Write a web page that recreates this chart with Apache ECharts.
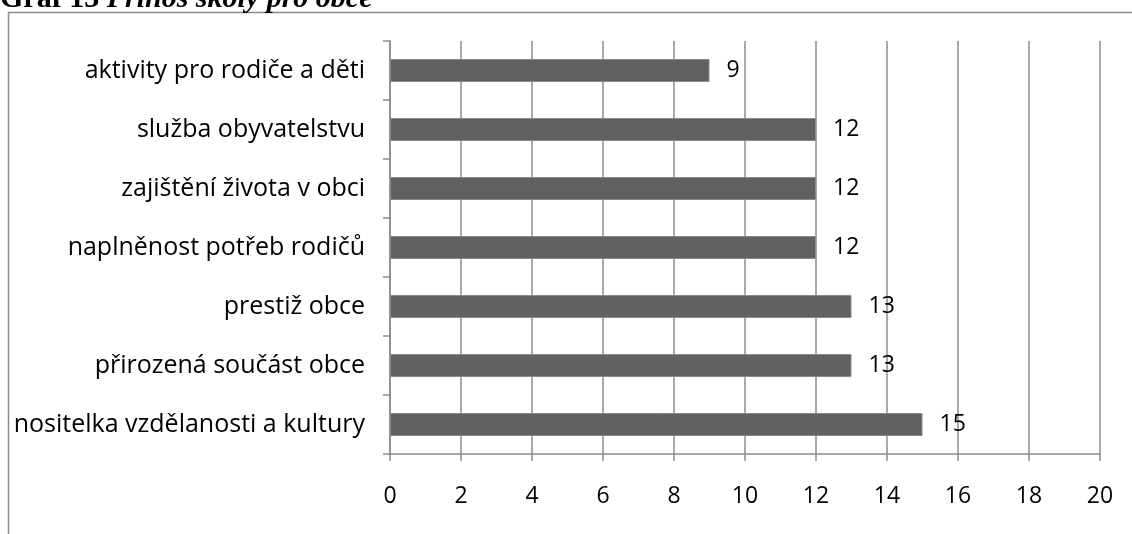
<!DOCTYPE html>
<html><head><meta charset="utf-8">
<script src="https://cdn.jsdelivr.net/npm/echarts@6/dist/echarts.min.js"></script>
<style>html,body{margin:0;padding:0;background:#fff}#c{width:1132px;height:534px}</style>
</head><body><div id="c"></div>
<script>
const categories = ["nositelka vzdělanosti a kultury","přirozená součást obce","prestiž obce","naplněnost potřeb rodičů","zajištění života v obci","služba obyvatelstvu","aktivity pro rodiče a děti"];
const values = [15,13,13,12,12,12,9];
const titleMain = "Graf 13 ";
const titleItalic = "Přínos školy pro obce";

const chart = echarts.init(document.getElementById('c'));
const font = "Open Sans";
chart.setOption({
  animation:false,
  title:{
    left:-5, top:-21,
    text:'{a|'+titleMain+'}{b|'+titleItalic+'}',
    textStyle:{rich:{
      a:{fontFamily:'Liberation Serif',fontWeight:'bold',fontSize:30,color:'#000'},
      b:{fontFamily:'Liberation Serif',fontWeight:'bold',fontStyle:'italic',fontSize:30,color:'#000'}
    }}
  },
  graphic:[{type:'rect',shape:{x:8.5,y:12.5,width:1300,height:700},style:{fill:'none',stroke:'#8c8c8c',lineWidth:1.5},z:-1}],
  grid:{left:390,right:32,top:41,bottom:80,containLabel:false},
  xAxis:{type:'value',min:0,max:20,interval:2,
    axisLine:{show:true,lineStyle:{color:'#8c8c8c',width:1.5}},
    axisTick:{show:true,length:7,lineStyle:{color:'#8c8c8c',width:1.5}},
    splitLine:{show:true,lineStyle:{color:'#8c8c8c',width:1.5}},
    axisLabel:{margin:31,fontFamily:font,fontSize:23,color:'#000'}
  },
  yAxis:{type:'category',data:categories,
    axisLine:{show:true,lineStyle:{color:'#8c8c8c',width:1.5}},
    axisTick:{show:true,length:7,alignWithLabel:false,lineStyle:{color:'#8c8c8c',width:1.5}},
    axisLabel:{margin:25,fontFamily:font,fontSize:25,color:'#000'}
  },
  series:[{type:'bar',data:values,barWidth:23,
    itemStyle:{color:'#616161',borderColor:'#8a8a8a',borderWidth:1},
    label:{show:true,position:'right',distance:17,fontFamily:font,fontSize:23,color:'#000'}
  }]
});
</script></body></html>
